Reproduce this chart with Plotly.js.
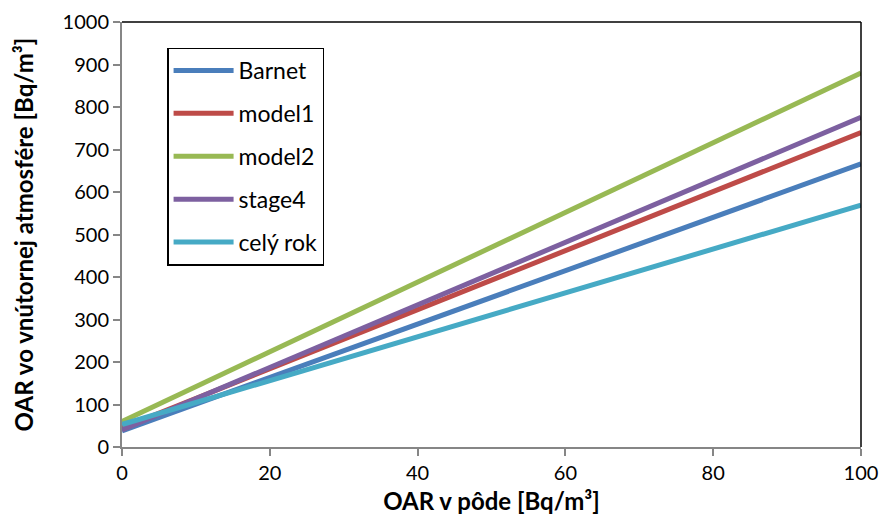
<!DOCTYPE html>
<html>
<head>
<meta charset="utf-8">
<script src="https://cdn.plot.ly/plotly-3.0.1.min.js"></script>
<style>html,body{margin:0;padding:0;background:#fff;}#chart{width:885px;height:519px;}</style>
</head>
<body>
<div id="chart"></div>
<script>
// x values (OAR v pôde)
const xVals = [0, 100];
// series values (OAR vo vnútornej atmosfére)
const barnet = [38, 666];
const model1 = [45, 740];
const model2 = [60, 880];
const stage4 = [40, 776];
const celyRok = [53, 569];
const seriesNames = ['Barnet', 'model1', 'model2', 'stage4', 'celý rok'];
const seriesData = [barnet, model1, model2, stage4, celyRok];
const colors = ['#4a7ebb', '#be4b48', '#98b954', '#7d60a0', '#46aac5'];

const traces = seriesData.map((d, i) => ({
  x: xVals, y: d, type: 'scatter', mode: 'lines', name: seriesNames[i],
  legendgroup: 'g' + i,
  line: {color: colors[i], width: 5}
}));
const font = "Lato, 'Open Sans', sans-serif";
const layout = {
  width: 885, height: 519,
  margin: {l: 122, r: 24, t: 22, b: 72},
  paper_bgcolor: '#fff', plot_bgcolor: '#fff',
  font: {family: font, size: 20, color: '#000'},
  showlegend: true,
  legend: {
    x: 0.061, y: 0.94, xanchor: 'left', yanchor: 'top',
    bordercolor: '#000', borderwidth: 1.5, bgcolor: '#fff',
    font: {family: font, size: 23, color: '#000'},
    tracegroupgap: 10, itemwidth: 60
  },
  xaxis: {
    range: [0, 100], tickvals: [0, 20, 40, 60, 80, 100],
    showgrid: false, zeroline: false,
    showline: true, linecolor: '#868686', linewidth: 2,
    ticks: 'outside', ticklen: 7, tickwidth: 2, tickcolor: '#868686',
    tickfont: {family: font, size: 20},
    title: {text: '<b>OAR v pôde [Bq/m³]</b>', font: {family: font, size: 24}, standoff: 10}
  },
  yaxis: {
    range: [0, 1000], tickvals: [0,100,200,300,400,500,600,700,800,900,1000],
    showgrid: false, zeroline: false,
    showline: true, linecolor: '#868686', linewidth: 2,
    ticks: 'outside', ticklen: 7, tickwidth: 2, tickcolor: '#868686',
    tickfont: {family: font, size: 20},
    title: {text: '<b>OAR vo vnútornej atmosfére [Bq/m³]</b>', font: {family: font, size: 24}, standoff: 22}
  },
  shapes: [
    {type: 'line', xref: 'paper', yref: 'paper', x0: 0, x1: 1, y0: 1, y1: 1, line: {color: '#000', width: 1.5}},
    {type: 'line', xref: 'paper', yref: 'paper', x0: 1, x1: 1, y0: 0, y1: 1, line: {color: '#000', width: 1.5}}
  ]
};
Plotly.newPlot('chart', traces, layout, {displayModeBar: false, staticPlot: true});
</script>
</body>
</html>
